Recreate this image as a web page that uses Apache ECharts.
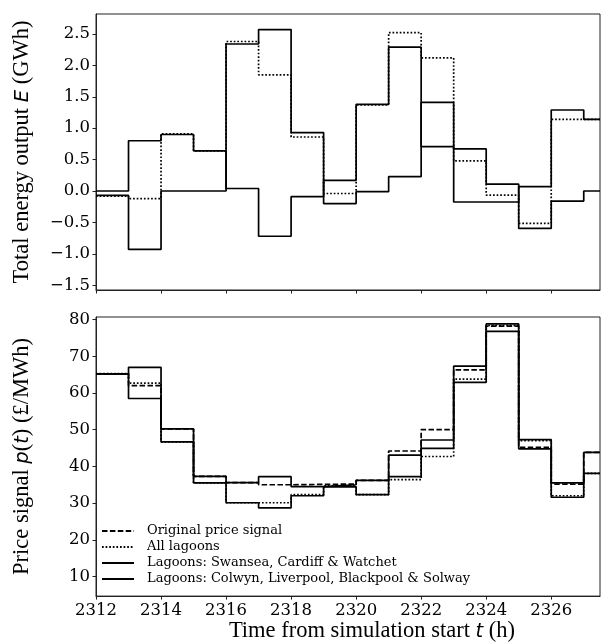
<!DOCTYPE html>
<html>
<head>
<meta charset="utf-8">
<script src="https://cdn.jsdelivr.net/npm/echarts@6/dist/echarts.min.js"></script>
<style>
html,body{margin:0;padding:0;background:#fff;}
#chart{width:602px;height:644px;}
</style>
</head>
<body>
<div id="chart"></div>
<script>
// Hour edges (start of each hourly step, last entry closes the final step)
const hourEdges = [2312, 2313, 2314, 2315, 2316, 2317, 2318, 2319, 2320, 2321, 2322, 2323, 2324, 2325, 2326, 2327, 2327.5];
const xTicks = [2312, 2314, 2316, 2318, 2320, 2322, 2324, 2326];

// Top panel: total energy output E (GWh)
const energyAll      = [-0.08, -0.12, 0.91, 0.64, 2.38, 1.85, 0.86, -0.04, 1.37, 2.52, 2.12, 0.48, -0.064, -0.515, 1.14, 1.14];
const energySwansea  = [0.00, 0.80, 0.90, 0.64, 0.04, -0.72, -0.09, 0.17, 1.38, 2.29, 0.705, -0.175, -0.175, 0.07, 1.29, 1.14];
const energyColwyn   = [-0.07, -0.93, 0.00, 0.00, 2.34, 2.57, 0.93, -0.20, -0.01, 0.23, 1.41, 0.67, 0.11, -0.595, -0.16, 0.00];
const energyTicks = [-1.5, -1.0, -0.5, 0.0, 0.5, 1.0, 1.5, 2.0, 2.5];

// Bottom panel: price signal p(t) (£/MWh)
const priceOriginal = [65.2, 62.0, 50.2, 37.3, 35.6, 35.0, 35.1, 35.2, 36.2, 44.2, 50.0, 66.3, 78.2, 45.2, 35.2, 43.8];
const priceAll      = [65.3, 62.7, 46.7, 35.5, 30.1, 30.1, 32.3, 34.7, 32.3, 36.4, 42.7, 63.8, 78.4, 47.0, 32.0, 38.1];
const priceSwansea  = [65.2, 67.0, 50.2, 37.3, 35.6, 37.2, 34.5, 35.0, 36.2, 43.1, 47.2, 67.3, 78.8, 47.3, 35.5, 43.8];
const priceColwyn   = [65.2, 58.5, 46.7, 35.5, 30.1, 28.7, 32.0, 34.4, 32.3, 37.2, 44.9, 62.9, 76.8, 44.8, 31.6, 38.1];
const priceTicks = [10, 20, 30, 40, 50, 60, 70, 80];

const legendNames = ['Original price signal', 'All lagoons', 'Lagoons: Swansea, Cardiff & Watchet', 'Lagoons: Colwyn, Liverpool, Blackpool & Solway'];

function stepData(vals) {
  const out = [];
  for (let i = 0; i < vals.length; i++) out.push([hourEdges[i], vals[i]]);
  out.push([hourEdges[hourEdges.length - 1], vals[vals.length - 1]]);
  return out;
}

const SERIF = 'DejaVu Serif';
const LABEL_SERIF = 'Liberation Serif';
const BLACK = '#000';
const LW = 1.7;
const DOT = [1.7, 1.9];
const DASH = [5.5, 2.4];
const TICK_FS = 16.5;
const NAME_FS = 22.5;

function mkSeries(name, vals, type, xi, yi) {
  return {
    name: name, type: 'line', step: 'end', xAxisIndex: xi, yAxisIndex: yi,
    data: stepData(vals), symbol: 'none', animation: false,
    lineStyle: { color: BLACK, width: LW, type: type },
    itemStyle: { color: BLACK }
  };
}

function fmtMinus(v, dec) {
  return (dec !== undefined ? Number(v).toFixed(dec) : String(v)).replace('-', '\u2212');
}

const axisLineStyle = { show: true, onZero: false, lineStyle: { color: '#222', width: 1 } };

function nameRich(extra) {
  return Object.assign({
    rich: {
      n: { fontFamily: LABEL_SERIF, fontSize: NAME_FS, color: BLACK },
      i: { fontFamily: 'DejaVu Sans', fontStyle: 'italic', fontSize: NAME_FS - 3, color: BLACK }
    }
  }, extra || {});
}

const chart = echarts.init(document.getElementById('chart'), null, { renderer: 'canvas' });
chart.setOption({
  backgroundColor: '#fff',
  animation: false,
  grid: [
    { left: 96, top: 14, width: 504, height: 276, show: true, borderColor: '#222', borderWidth: 1, containLabel: false },
    { left: 96, top: 317, width: 504, height: 285.5, show: true, borderColor: '#222', borderWidth: 1, containLabel: false }
  ],
  xAxis: [
    {
      type: 'value', gridIndex: 0, min: 2312, max: 2327.5,
      axisLine: axisLineStyle,
      axisTick: { show: true, inside: false, length: 3.5, customValues: xTicks, lineStyle: { color: '#222' } },
      axisLabel: { show: false, customValues: xTicks },
      splitLine: { show: false }
    },
    {
      type: 'value', gridIndex: 1, min: 2312, max: 2327.5,
      axisLine: axisLineStyle,
      axisTick: { show: true, inside: false, length: 3.5, customValues: xTicks, lineStyle: { color: '#222' } },
      axisLabel: { show: true, customValues: xTicks, margin: 6, color: BLACK, fontFamily: SERIF, fontSize: TICK_FS, formatter: v => String(v) },
      splitLine: { show: false },
      name: '{n|Time from simulation start }{i|t}{n| (h)}',
      nameLocation: 'middle', nameGap: 18,
      nameTextStyle: nameRich({ padding: [0, 0, 0, 48] })
    }
  ],
  yAxis: [
    {
      type: 'value', gridIndex: 0, min: -1.576, max: 2.818,
      axisLine: axisLineStyle,
      axisTick: { show: true, inside: false, length: 3.5, customValues: energyTicks, lineStyle: { color: '#222' } },
      axisLabel: { show: true, customValues: energyTicks, margin: 6, color: BLACK, fontFamily: SERIF, fontSize: TICK_FS, formatter: v => fmtMinus(v, 1) },
      splitLine: { show: false },
      name: '{n|Total energy output }{i|E}{n| (GWh)}',
      nameLocation: 'middle', nameGap: 62, nameRotate: 90,
      nameTextStyle: nameRich()
    },
    {
      type: 'value', gridIndex: 1, min: 4.67, max: 80.7,
      axisLine: axisLineStyle,
      axisTick: { show: true, inside: false, length: 3.5, customValues: priceTicks, lineStyle: { color: '#222' } },
      axisLabel: { show: true, customValues: priceTicks, margin: 6, color: BLACK, fontFamily: SERIF, fontSize: TICK_FS, formatter: v => String(v) },
      splitLine: { show: false },
      name: '{n|Price signal }{i|p}{n|(}{i|t}{n|) (£/MWh)}',
      nameLocation: 'middle', nameGap: 62, nameRotate: 90,
      nameTextStyle: nameRich()
    }
  ],
  legend: {
    data: legendNames,
    orient: 'vertical', left: 101, top: 524, padding: 0,
    itemWidth: 32, itemHeight: 12, itemGap: 2,
    selectedMode: false,
    itemStyle: { opacity: 0 },
    textStyle: { fontFamily: SERIF, fontSize: 13, lineHeight: 14, color: BLACK, padding: [0, 0, 0, 8] }
  },
  series: [
    mkSeries('All lagoons (E)', energyAll, DOT, 0, 0),
    mkSeries('Swansea (E)', energySwansea, 'solid', 0, 0),
    mkSeries('Colwyn (E)', energyColwyn, 'solid', 0, 0),
    mkSeries(legendNames[0], priceOriginal, DASH, 1, 1),
    mkSeries(legendNames[1], priceAll, DOT, 1, 1),
    mkSeries(legendNames[2], priceSwansea, 'solid', 1, 1),
    mkSeries(legendNames[3], priceColwyn, 'solid', 1, 1)
  ]
});
</script>
</body>
</html>
